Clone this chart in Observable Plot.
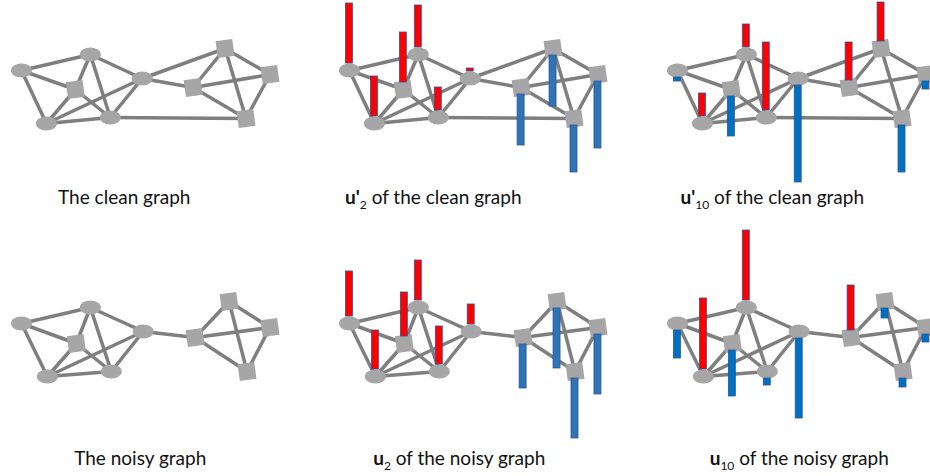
<!DOCTYPE html>
<html>
<head>
<meta charset="utf-8">
<script src="https://cdn.jsdelivr.net/npm/d3@7"></script>
<script src="https://cdn.jsdelivr.net/npm/@observablehq/plot@0.6"></script>
<style>
  html, body { margin: 0; padding: 0; background: #ffffff; overflow: hidden; width: 930px; height: 476px; }
  #chart { width: 930px; height: 476px; overflow: hidden; }
  #chart svg { display: block; max-width: none !important; }
</style>
</head>
<body>
<div id="chart"></div>
<script>
// ---- data ----
const nodeNames = ["A", "B", "C", "D", "E", "F", "G", "H", "I", "J"];
const nodeShapes = ["ellipse", "ellipse", "square", "ellipse", "ellipse", "ellipse", "square", "square", "square", "square"];

// graph layouts (node coordinates inside one panel)
const cleanX = [20, 89, 74, 45, 109, 141, 224, 192, 269, 245];
const cleanY = [70, 54, 89, 123, 117, 78, 48, 87, 74, 118];
const noisyX = [20, 89, 75, 46, 110, 142, 228, 194, 269, 246];
const noisyY = [71, 55, 91, 124, 119, 79, 49, 85, 75, 119];

const cleanEdges = ["A-B", "A-C", "A-D", "B-C", "B-E", "B-F", "C-D", "C-E", "D-E", "D-F", "E-F",
  "F-G", "F-H", "E-J", "G-H", "G-I", "G-J", "H-I", "H-J", "I-J"];
const noisyEdges = ["A-B", "A-C", "A-D", "B-C", "B-E", "B-F", "C-D", "C-E", "D-E", "D-F", "E-F",
  "F-H", "G-H", "G-I", "G-J", "H-I", "H-J", "I-J"];

// eigenvector entries per node (A..J)
const u2Clean  = [0.60, 0.42, 0.50, 0.40, 0.23, 0.03, -0.51, -0.51, -0.67, -0.47];
const u10Clean = [-0.04, 0.23, -0.40, 0.23, 0.68, -0.97, 0.39, 0.38, -0.08, -0.47];
const u2Noisy  = [0.45, 0.40, 0.44, 0.39, 0.38, 0.20, -0.60, -0.44, -0.60, -0.60];
const u10Noisy = [-0.28, 0.70, -0.46, 0.71, -0.07, -0.80, -0.10, 0.45, -0.08, -0.09];

const panelLabels = [
  "The clean graph", "u'2 of the clean graph", "u'10 of the clean graph",
  "The noisy graph", "u2 of the noisy graph", "u10 of the noisy graph"
];

// ---- layout / style ----
const W = 986, H = 504, colW = W / 3, rowH = 252;
const barScale = 100, barHalf = 3.5, nodeGap = 7;
const blues = ["#2e75b6", "#2e75b6", "#0070c0"];
const labelX = [123, 104, 115, 139, 130, 142];
const labelY = [203, 203, 203, 212, 212, 212];

const panels = [
  {col: 0, row: 0, graph: "clean", values: null},
  {col: 1, row: 0, graph: "clean", values: u2Clean},
  {col: 2, row: 0, graph: "clean", values: u10Clean},
  {col: 0, row: 1, graph: "noisy", values: null},
  {col: 1, row: 1, graph: "noisy", values: u2Noisy},
  {col: 2, row: 1, graph: "noisy", values: u10Noisy}
];

function layoutOf(g) {
  return g === "clean"
    ? {x: cleanX, y: cleanY, edges: cleanEdges}
    : {x: noisyX, y: noisyY, edges: noisyEdges};
}

const nodeData = panels.flatMap(p => {
  const L = layoutOf(p.graph);
  return nodeNames.map((n, i) => ({col: p.col, row: p.row, shape: nodeShapes[i], x: L.x[i], y: L.y[i]}));
});

const edgeData = panels.flatMap(p => {
  const L = layoutOf(p.graph);
  return L.edges.map(e => {
    const [a, b] = e.split("-").map(s => nodeNames.indexOf(s));
    return {col: p.col, row: p.row, x1: L.x[a], y1: L.y[a], x2: L.x[b], y2: L.y[b]};
  });
});

const barData = panels.filter(p => p.values).flatMap(p => {
  const L = layoutOf(p.graph);
  return p.values.map((v, i) => {
    const base = L.y[i] - Math.sign(v) * nodeGap;
    return {col: p.col, row: p.row, x: L.x[i], base, tip: base - v * barScale,
      fill: v > 0 ? "#ff0000" : blues[p.col]};
  });
});

const labelData = panels.map((p, i) => ({col: p.col, row: p.row, text: panelLabels[i], lx: labelX[i], ly: labelY[i]}));

const ellipse = {
  draw(ctx, size) {
    const r = Math.sqrt(size / Math.PI), rx = r * 1.5, ry = r, k = 0.5523;
    ctx.moveTo(rx, 0);
    ctx.bezierCurveTo(rx, ry * k, rx * k, ry, 0, ry);
    ctx.bezierCurveTo(-rx * k, ry, -rx, ry * k, -rx, 0);
    ctx.bezierCurveTo(-rx, -ry * k, -rx * k, -ry, 0, -ry);
    ctx.bezierCurveTo(rx * k, -ry, rx, -ry * k, rx, 0);
    ctx.closePath();
  }
};

const chart = Plot.plot({
  width: W,
  height: H,
  margin: 0,
  style: {background: "#ffffff", fontFamily: "Lato, 'Open Sans', sans-serif", overflow: "visible", maxWidth: "none"},
  x: {domain: [0, colW], axis: null},
  y: {domain: [0, rowH], reverse: true, axis: null},
  fx: {domain: [0, 1, 2], padding: 0, axis: null},
  fy: {domain: [0, 1], padding: 0, axis: null},
  color: {type: "identity"},
  marks: [
    Plot.link(edgeData, {x1: "x1", y1: "y1", x2: "x2", y2: "y2", fx: "col", fy: "row",
      stroke: "#7f7f7f", strokeWidth: 3.5}),
    Plot.dot(nodeData.filter(d => d.shape === "ellipse"), {x: "x", y: "y", fx: "col", fy: "row",
      symbol: ellipse, r: 7, fill: "#a6a6a6", stroke: "none"}),
    Plot.dot(nodeData.filter(d => d.shape === "square"), {x: "x", y: "y", fx: "col", fy: "row",
      symbol: "square", r: 9.5, rotate: -8, fill: "#a6a6a6", stroke: "none"}),
    Plot.rect(barData, {x1: d => d.x - barHalf, x2: d => d.x + barHalf, y1: "base", y2: "tip",
      fx: "col", fy: "row", fill: "fill", stroke: "#2f5597", strokeWidth: 0.8}),
    Plot.text(labelData, {x: "lx", y: "ly", text: "text", fx: "col", fy: "row",
      textAnchor: "middle", lineAnchor: "bottom", fontSize: 19, fill: "#111111"})
  ]
});

document.getElementById("chart").appendChild(chart);

// rich text: bold vector name with subscript index
d3.select(chart).selectAll("text").each(function () {
  const t = this.textContent;
  const m = t.match(/^(u'?)(\d+)( .*)$/);
  if (!m) return;
  const el = d3.select(this);
  el.text(null);
  el.append("tspan").attr("font-weight", "bold").text(m[1]);
  el.append("tspan").attr("font-size", "12px").attr("dy", "5px").text(m[2]);
  el.append("tspan").attr("dy", "-5px").text(m[3]);
});
</script>
</body>
</html>
